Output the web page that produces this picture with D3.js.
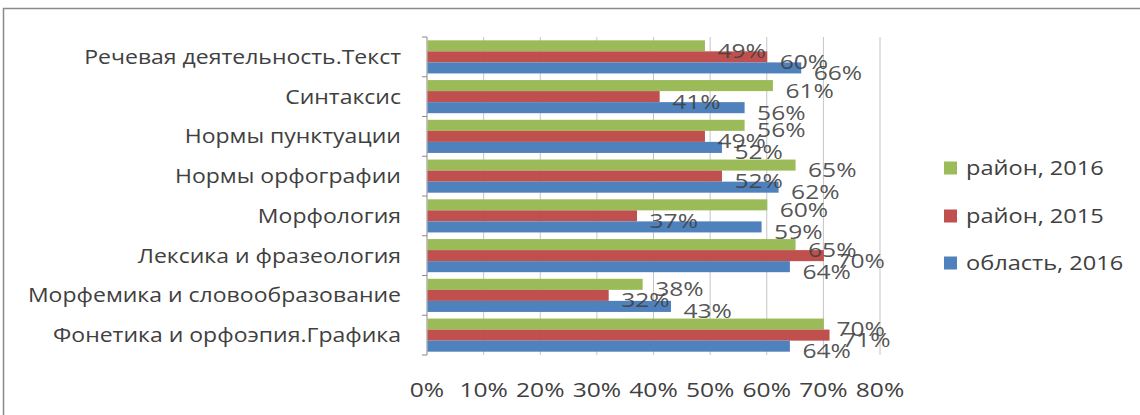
<!DOCTYPE html>
<html>
<head>
<meta charset="utf-8">
<script src="https://cdn.jsdelivr.net/npm/d3@7"></script>
<style>
  html, body { margin: 0; padding: 0; background: #fff; }
  svg { display: block; }
  text { font-family: "Open Sans", sans-serif; fill: #404040; }
</style>
</head>
<body>
<svg id="chart" width="1140" height="415"></svg>
<script>
const categories = [
  "Речевая деятельность.Текст",
  "Синтаксис",
  "Нормы пунктуации",
  "Нормы орфографии",
  "Морфология",
  "Лексика и фразеология",
  "Морфемика и словообразование",
  "Фонетика и орфоэпия.Графика"
];
const seriesNames = ["район, 2016", "район, 2015", "область, 2016"];
const rayon2016  = [49, 61, 56, 65, 60, 65, 38, 70];
const rayon2015  = [60, 41, 49, 52, 37, 70, 32, 71];
const oblast2016 = [66, 56, 52, 62, 59, 64, 43, 64];
const seriesColors = ["#9BBB59", "#C0504D", "#4F81BD"];
const tickValues = [0, 10, 20, 30, 40, 50, 60, 70, 80];

const series = [rayon2016, rayon2015, oblast2016];
const FS = 20;
const SX_CAT = 1.15;
const SX_NUM = 1.23;
const SX_LEG = 1.18;

const svg = d3.select("#chart");

// outer frame
svg.append("rect")
  .attr("x", 3.5).attr("y", 8.5)
  .attr("width", 1150).attr("height", 420)
  .attr("fill", "#fff").attr("stroke", "#8a8a8a").attr("stroke-width", 1.5);

const x = d3.scaleLinear().domain([0, 80]).range([427, 880]);
const y = d3.scaleBand().domain(categories).range([37, 355]).paddingInner(0).paddingOuter(0);
const inner = d3.scaleBand().domain(d3.range(series.length))
  .range([0, y.bandwidth()]).paddingInner(0).paddingOuter(0.3);

// gridlines
svg.append("g").selectAll("line").data(tickValues).join("line")
  .attr("x1", d => x(d)).attr("x2", d => x(d))
  .attr("y1", 37).attr("y2", 355)
  .attr("stroke", d => d === 0 ? "#8a8a8a" : "#c4c4c4").attr("stroke-width", 1);

// category ticks on left axis
svg.append("g").selectAll("line").data(d3.range(categories.length + 1)).join("line")
  .attr("x1", 422).attr("x2", 427)
  .attr("y1", i => 37 + i * y.step()).attr("y2", i => 37 + i * y.step())
  .attr("stroke", "#8a8a8a");

// bars
const groups = svg.append("g").selectAll("g").data(series).join("g")
  .attr("fill", (d, i) => seriesColors[i]);
groups.each(function(vals, si) {
  d3.select(this).selectAll("rect").data(vals).join("rect")
    .attr("x", x(0) + 0.5)
    .attr("y", (v, ci) => y(categories[ci]) + inner(si))
    .attr("width", v => x(v) - x(0))
    .attr("height", inner.bandwidth());
});

// data labels
const lab = svg.append("g");
series.forEach((vals, si) => {
  vals.forEach((v, ci) => {
    const cy = y(categories[ci]) + inner(si) + inner.bandwidth() / 2 + 5;
    lab.append("text")
      .attr("transform", `translate(${x(v) + 13},${cy}) scale(${SX_NUM},1)`)
      .attr("dy", "0.35em")
      .attr("font-size", FS)
      .attr("fill-opacity", 0.9)
      .text(v + "%");
  });
});

// category labels
svg.append("g").selectAll("text").data(categories).join("text")
  .attr("transform", d => `translate(401,${y(d) + y.bandwidth() / 2}) scale(${SX_CAT},1)`)
  .attr("dy", "0.35em")
  .attr("text-anchor", "end")
  .attr("font-size", FS)
  .text(d => d);

// x tick labels
svg.append("g").selectAll("text").data(tickValues).join("text")
  .attr("transform", d => `translate(${x(d)},390) scale(${SX_NUM},1)`)
  .attr("dy", "0.35em")
  .attr("text-anchor", "middle")
  .attr("font-size", FS)
  .text(d => d + "%");

// legend
const legendY = [168, 216, 263];
const leg = svg.append("g").selectAll("g").data(seriesNames).join("g")
  .attr("transform", (d, i) => `translate(944,${legendY[i]})`);
leg.append("rect")
  .attr("x", 0).attr("y", -6.5).attr("width", 13).attr("height", 13)
  .attr("fill", (d, i) => seriesColors[i]);
leg.append("text")
  .attr("transform", `translate(22,0) scale(${SX_LEG},1)`)
  .attr("dy", "0.35em")
  .attr("font-size", FS)
  .text(d => d);
</script>
</body>
</html>
